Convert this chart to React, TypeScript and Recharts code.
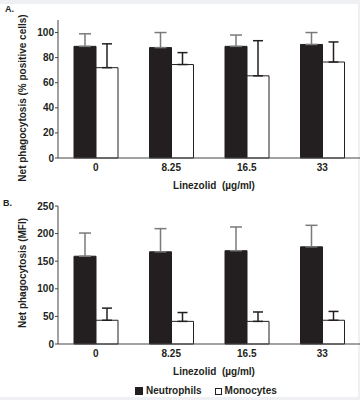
import React from "react";
import { BarChart, Bar, XAxis, YAxis, ErrorBar, Label } from "recharts";

const doses = ["0", "8.25", "16.5", "33"];

// panel A: % positive cells
const pctNeutrophils = [89, 88, 89, 90.5];
const pctNeutrophilsErr = [10, 12, 9, 9.5];
const pctMonocytes = [72, 74.5, 65.5, 76.5];
const pctMonocytesErr = [19, 9.5, 28, 16];
const pctTicks = [0, 20, 40, 60, 80, 100];

// panel B: MFI
const mfiNeutrophils = [159, 167, 169, 176];
const mfiNeutrophilsErr = [42, 42, 43, 39];
const mfiMonocytes = [43, 41, 41, 43];
const mfiMonocytesErr = [22, 16, 17, 16];
const mfiTicks = [0, 50, 100, 150, 200, 250];

const FONT = "'Liberation Sans', Arial, sans-serif";
const INK = "#231f20";
const AXIS = "#444";

const toRows = (n: number[], nErr: number[], m: number[], mErr: number[]) =>
  doses.map((dose, i) => ({
    dose,
    n: n[i],
    nErr: [0, nErr[i]],
    m: m[i],
    mErr: [0, mErr[i]],
  }));

const pctRows = toRows(pctNeutrophils, pctNeutrophilsErr, pctMonocytes, pctMonocytesErr);
const mfiRows = toRows(mfiNeutrophils, mfiNeutrophilsErr, mfiMonocytes, mfiMonocytesErr);

const textStyle = { fontFamily: FONT, fontWeight: 700, fontSize: 10, fill: INK };

function YTitle(props: any) {
  const { viewBox, value, shift } = props;
  const cx = viewBox.x + 22;
  const cy = viewBox.y + viewBox.height / 2 + shift;
  return (
    <text x={cx} y={cy} transform={`rotate(-90 ${cx} ${cy})`} textAnchor="middle" dominantBaseline="central" style={textStyle}>
      {value}
    </text>
  );
}

function XTitle(props: any) {
  const { viewBox } = props;
  const cx = viewBox.x + viewBox.width / 2 + 5;
  const cy = viewBox.y + 27;
  return (
    <text x={cx} y={cy} textAnchor="middle" dominantBaseline="central" style={textStyle} xmlSpace="preserve">
      {"Linezolid  (µg/ml)"}
    </text>
  );
}

type PanelProps = {
  data: any[];
  domainMax: number;
  ticks: number[];
  yTitle: string;
  titleShift: number;
  height: number;
  top: number;
  xHeight: number;
};

function Panel({ data, domainMax, ticks, yTitle, titleShift, height, top, xHeight }: PanelProps) {
  return (
    <BarChart width={360} height={height} data={data} margin={{ top, right: 0, bottom: 0, left: 0 }} barGap={0}>
      {/* boundary tick marks between dose groups */}
      <XAxis
        xAxisId="grid"
        type="number"
        domain={[0, 4]}
        ticks={[0, 1, 2, 3, 4]}
        tick={false}
        axisLine={false}
        tickLine={{ stroke: AXIS }}
        tickSize={4}
        height={0}
      />
      <XAxis
        xAxisId="cat"
        dataKey="dose"
        tickLine={false}
        axisLine={{ stroke: AXIS }}
        tickSize={4}
        tickMargin={2}
        height={xHeight}
        tick={textStyle}
      >
        <Label content={<XTitle />} />
      </XAxis>
      <YAxis
        width={58}
        domain={[0, domainMax]}
        ticks={ticks}
        interval={0}
        axisLine={{ stroke: AXIS }}
        tickLine={{ stroke: AXIS }}
        tickSize={3}
        tickMargin={1}
        tick={textStyle}
      >
        <Label content={<YTitle value={yTitle} shift={titleShift} />} />
      </YAxis>
      <Bar xAxisId="cat" dataKey="n" fill={INK} stroke={INK} barSize={22} isAnimationActive={false}>
        <ErrorBar dataKey="nErr" direction="y" stroke="#7a7a7a" strokeWidth={1.5} width={6} isAnimationActive={false} />
      </Bar>
      <Bar xAxisId="cat" dataKey="m" fill="#fff" stroke={INK} barSize={22} isAnimationActive={false}>
        <ErrorBar dataKey="mErr" direction="y" stroke={INK} strokeWidth={1.5} width={5} isAnimationActive={false} />
      </Bar>
    </BarChart>
  );
}

export default function App() {
  return (
    <div style={{ position: "absolute", left: 0, top: 0, width: 360, height: 400, background: "#eef0f3", overflow: "hidden" }}>
      <div style={{ position: "absolute", left: 0, top: 4, width: 358, height: 393, background: "#fff" }} />
      <div style={{ position: "absolute", left: 0, top: 0 }}>
        <Panel
          data={pctRows}
          domainMax={110}
          ticks={pctTicks}
          yTitle="Net phagocytosis (% positive cells)"
          titleShift={9}
          height={195}
          top={20}
          xHeight={37}
        />
      </div>
      <div style={{ position: "absolute", left: 0, top: 190 }}>
        <Panel
          data={mfiRows}
          domainMax={250}
          ticks={mfiTicks}
          yTitle="Net phagocytosis (MFI)"
          titleShift={-2}
          height={195}
          top={16}
          xHeight={41}
        />
      </div>
      <span style={{ position: "absolute", left: 5, top: 4, fontFamily: FONT, fontWeight: 700, fontSize: 9, color: INK }}>A.</span>
      <span style={{ position: "absolute", left: 3, top: 198, fontFamily: FONT, fontWeight: 700, fontSize: 9, color: INK }}>B.</span>
      <div
        style={{
          position: "absolute",
          left: 135,
          top: 384,
          display: "flex",
          alignItems: "center",
          fontFamily: FONT,
          fontWeight: 700,
          fontSize: 10,
          color: INK,
          lineHeight: "14px",
        }}
      >
        <span style={{ width: 8, height: 8, background: INK, marginRight: 3 }} />
        <span style={{ marginRight: 13 }}>Neutrophils</span>
        <span style={{ width: 7, height: 7, background: "#fff", border: `1px solid ${INK}`, marginRight: 3, boxSizing: "border-box" }} />
        <span>Monocytes</span>
      </div>
    </div>
  );
}
